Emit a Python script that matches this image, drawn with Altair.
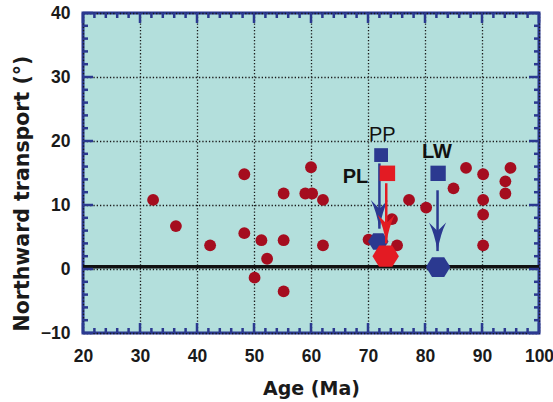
import altair as alt
import pandas as pd

# Palaeomagnetic sites: age (Ma) and northward transport (degrees)
ages = [32.3, 36.3, 42.3, 48.3, 48.3, 50.1, 51.3, 52.3, 55.2, 55.2, 55.2,
        59.0, 60.2, 60.0, 62.1, 62.1, 70.1, 74.2, 75.1, 77.2, 80.2, 85.0,
        87.2, 90.2, 90.2, 90.2, 90.2, 94.1, 94.1, 95.0]
transport = [10.8, 6.7, 3.7, 14.8, 5.6, -1.35, 4.5, 1.6, 11.8, 4.5, -3.5,
             11.8, 11.8, 15.9, 10.8, 3.7, 4.6, 7.8, 3.7, 10.8, 9.6, 12.6,
             15.8, 14.8, 10.8, 8.5, 3.7, 13.7, 11.8, 15.8]

# Named localities: original position (squares) and corrected position (hexagons)
site_names = ["PP", "PL", "LW"]
site_age = [72.3, 73.4, 82.3]
site_transport = [17.8, 14.95, 14.95]
corrected_age = [71.8, 73.1, 82.3]
corrected_transport = [4.3, 2.0, 0.3]
arrow_age = [72.0, 73.2, 82.2]
arrow_from = [16.5, 13.4, 12.3]
arrow_to = [6.3, 4.0, 2.8]
label_age = [72.5, 67.8, 82.1]
label_transport = [21.0, 14.4, 18.3]

zero_level = [0.35]

x_major = [20, 30, 40, 50, 60, 70, 80, 90, 100]
x_minor = [22, 24, 26, 28, 32, 34, 36, 38, 42, 44, 46, 48, 52, 54, 56, 58,
           62, 64, 66, 68, 72, 74, 76, 78, 82, 84, 86, 88, 92, 94, 96, 98]
y_major = [-10, 0, 10, 20, 30, 40]
y_minor = [-8, -6, -4, -2, 2, 4, 6, 8, 12, 14, 16, 18, 22, 24, 26, 28,
           32, 34, 36, 38]

W, H = 456, 320
BLUE = "#2b3990"
RED = "#e31b23"
DARK_RED = "#a50d1f"
TEAL = "#b3dfdc"

xscale = alt.Scale(domain=[20, 100], nice=False, zero=False)
yscale = alt.Scale(domain=[-10, 40], nice=False, zero=False)

xaxis = alt.Axis(
    values=x_major, title="Age (Ma)", grid=True, ticks=False, tickSize=0,
    domain=False, labelFlush=False, labelOverlap=False,
    labelFont="Liberation Sans", labelFontSize=17.5, labelFontWeight="bold",
    labelColor="#1a1a1a", labelPadding=14,
    gridColor="#1a1a1a", gridDash=[1.3, 2.0], gridWidth=1.3,
    titleFont="DejaVu Sans", titleFontSize=19, titleFontWeight="bold",
    titleColor="#1a1a1a", titleX=W / 2, titleY=61, titleAlign="center",
    titleBaseline="alphabetic",
)
yaxis = alt.Axis(
    values=y_major, title="Northward transport (°)", grid=True, ticks=False,
    tickSize=0, domain=False, labelFlush=False, labelOverlap=False,
    labelFont="Liberation Sans", labelFontSize=17.5, labelFontWeight="bold",
    labelColor="#1a1a1a", labelPadding=13,
    gridColor="#1a1a1a", gridDash=[1.3, 2.0], gridWidth=1.3,
    titleFont="DejaVu Sans", titleFontSize=20.5, titleFontWeight="bold",
    titleColor="#1a1a1a", titleX=-55, titleY=180, titleAngle=-90,
    titleAlign="center", titleBaseline="alphabetic",
)


def X(field):
    return alt.X(field, type="quantitative", scale=xscale, axis=xaxis)


def Y(field):
    return alt.Y(field, type="quantitative", scale=yscale, axis=yaxis)


sites = pd.DataFrame({"age": ages, "transport": transport})
poles = pd.DataFrame({
    "name": site_names,
    "age": site_age, "transport": site_transport,
    "cage": corrected_age, "ctransport": corrected_transport,
    "aage": arrow_age, "afrom": arrow_from, "ato": arrow_to,
    "lage": label_age, "ltransport": label_transport,
})

HEXAGON = "M-1,0 L-0.5,-0.8 L0.5,-0.8 L1,0 L0.5,0.8 L-0.5,0.8 Z"
# Barbed arrowhead, tip at the bottom of the symbol box
ARROWHEAD = "M0,1 Q-0.2,-0.2 -0.6,-1 L0,-0.4 L0.6,-1 Q0.2,-0.2 0,1 Z"


def site(name):
    return alt.Chart(poles).transform_filter(alt.datum.name == name)


zero_line = alt.Chart(pd.DataFrame({"y": zero_level})).mark_rule(
    color="#111111", strokeWidth=3.5
).encode(y=Y("y"))

circles = alt.Chart(sites).mark_point(
    shape="circle", filled=True, opacity=1, color=DARK_RED, size=140
).encode(x=X("age"), y=Y("transport"))

# Per-locality styling: colour, hexagon size, square size
style = {"PP": (BLUE, 420, 190), "PL": (RED, 700, 240), "LW": (BLUE, 600, 235)}
draw_order = ["PP", "LW", "PL"]

hexes, shafts, heads, squares = [], [], [], []
for name in draw_order:
    col, hsize, ssize = style[name]
    hexes.append(site(name).mark_point(
        shape=HEXAGON, filled=True, opacity=1, strokeWidth=0, size=hsize, color=col
    ).encode(x=X("cage"), y=Y("ctransport")))
    shafts.append(site(name).mark_rule(strokeWidth=2.5, color=col).encode(
        x=X("aage"), y=Y("afrom"), y2="ato"))
    heads.append(site(name).mark_point(
        shape=ARROWHEAD, filled=True, opacity=1, size=820, yOffset=-14.3,
        strokeWidth=0, color=col
    ).encode(x=X("aage"), y=Y("ato")))
    squares.append(site(name).mark_point(
        shape="square", filled=True, opacity=1, strokeWidth=0, size=ssize, color=col
    ).encode(x=X("age"), y=Y("transport")))

label_plain = site("PP").mark_text(
    font="Liberation Sans", fontSize=20, fontWeight="normal", color="#111111",
    align="center", baseline="middle"
).encode(x=X("lage"), y=Y("ltransport"), text="name:N")

label_bold = alt.Chart(poles).transform_filter(alt.datum.name != "PP").mark_text(
    font="Liberation Sans", fontSize=20, fontWeight="bold", color="#111111",
    align="center", baseline="middle"
).encode(x=X("lage"), y=Y("ltransport"), text="name:N")


# Inward-pointing frame ticks on all four sides
def x_ticks(values, length):
    df = pd.DataFrame({"v": values})
    bottom = alt.Chart(df).mark_rule(color=BLUE, strokeWidth=2.5).encode(
        x=X("v"), y=alt.value(H), y2=alt.value(H - length))
    top = alt.Chart(df).mark_rule(color=BLUE, strokeWidth=2.5).encode(
        x=X("v"), y=alt.value(0), y2=alt.value(length))
    return [bottom, top]


def y_ticks(values, length):
    df = pd.DataFrame({"v": values})
    left = alt.Chart(df).mark_rule(color=BLUE, strokeWidth=2.5).encode(
        y=Y("v"), x=alt.value(0), x2=alt.value(length))
    right = alt.Chart(df).mark_rule(color=BLUE, strokeWidth=2.5).encode(
        y=Y("v"), x=alt.value(W), x2=alt.value(W - length))
    return [left, right]


ticks = x_ticks(x_major, 10) + x_ticks(x_minor, 5) + y_ticks(y_major, 10) + y_ticks(y_minor, 5)

chart = alt.layer(
    zero_line, circles,
    hexes[0], hexes[1], shafts[0], heads[0], shafts[2], heads[2], shafts[1], heads[1],
    *squares, hexes[2],
    label_plain, label_bold, *ticks
).properties(
    width=W, height=H,
    padding={"left": 83, "top": 13, "right": 14, "bottom": 69},
    autosize=alt.AutoSizeParams(type="none"),
    background="white",
).configure_view(
    fill=TEAL, stroke=BLUE, strokeWidth=3
)

chart.save("out.html", embed_options={"renderer": "svg", "actions": False})
